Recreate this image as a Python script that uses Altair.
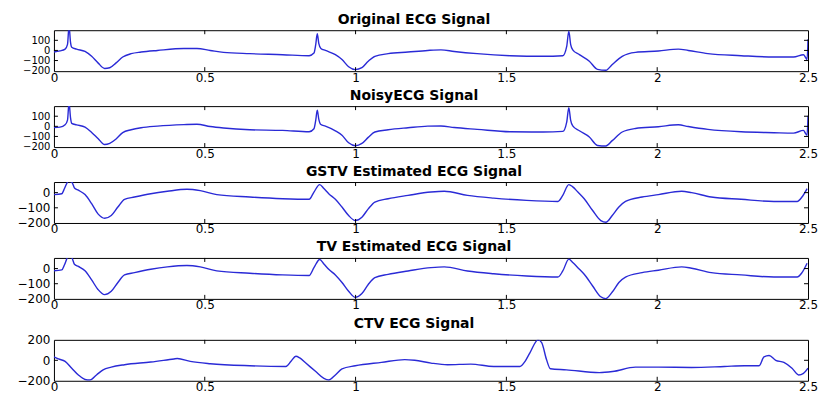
import altair as alt
import pandas as pd

# ---------------- data ----------------
TITLES = ["Original ECG Signal", "NoisyECG Signal", "GSTV Estimated ECG Signal",
          "TV Estimated ECG Signal", "CTV ECG Signal"]

X_TICKS = [0, 0.5, 1, 1.5, 2, 2.5]

t_orig = [0, 0.02, 0.037, 0.045, 0.050, 0.055, 0.059, 0.075, 0.103, 0.125, 0.146, 0.168,
          0.185, 0.206, 0.228, 0.256, 0.289, 0.343, 0.431, 0.474, 0.518, 0.562, 0.649,
          0.758, 0.846, 0.862, 0.868, 0.873, 0.878, 0.885, 0.900, 0.933, 0.955, 0.977,
          0.999, 1.021, 1.042, 1.064, 1.108, 1.174, 1.239, 1.283, 1.327, 1.403, 1.513,
          1.622, 1.687, 1.700, 1.707, 1.713, 1.720, 1.742, 1.775, 1.802, 1.830, 1.851,
          1.884, 1.928, 2.004, 2.070, 2.103, 2.168, 2.278, 2.387, 2.452, 2.485, 2.492,
          2.497, 2.5]
v_orig = [-15, -5, 13, 60, 240, 80, 32, 13, -10, -58, -123, -178,
          -171, -123, -65, -32, -16, 0, 19, 19, 0, -19, -32,
          -42, -52, -26, 60, 165, 70, 20, 0, -42, -90, -161,
          -190, -171, -107, -58, -32, -16, 0, 6, -10, -32, -52,
          -58, -52, 40, 190, 60, 6, -42, -107, -187, -196, -139,
          -58, -19, -6, 13, 0, -32, -52, -65, -65, -42, -70,
          -90, 110]

t_noisy = [0, 0.02, 0.037, 0.045, 0.050, 0.055, 0.059, 0.075, 0.103, 0.125, 0.146, 0.168,
           0.185, 0.206, 0.228, 0.256, 0.289, 0.343, 0.431, 0.474, 0.518, 0.562, 0.649,
           0.758, 0.846, 0.862, 0.868, 0.873, 0.878, 0.885, 0.900, 0.933, 0.955, 0.977,
           0.999, 1.021, 1.042, 1.064, 1.108, 1.174, 1.239, 1.283, 1.327, 1.403, 1.513,
           1.622, 1.687, 1.700, 1.707, 1.713, 1.720, 1.742, 1.775, 1.802, 1.830, 1.851,
           1.884, 1.928, 2.004, 2.070, 2.103, 2.168, 2.278, 2.387, 2.452, 2.485, 2.492,
           2.497, 2.5]
v_noisy = [-12, -8, 15, 62, 235, 84, 30, 15, -8, -60, -120, -180,
           -168, -125, -62, -34, -14, 2, 17, 21, -2, -17, -34,
           -40, -54, -24, 62, 160, 72, 18, 2, -44, -88, -163,
           -192, -169, -109, -56, -34, -14, 2, 4, -12, -30, -54,
           -56, -50, 42, 185, 62, 4, -44, -105, -189, -194, -141,
           -56, -21, -4, 15, -2, -30, -54, -63, -67, -40, -72,
           -88, 105]

t_gstv = [0, 0.026, 0.035, 0.048, 0.059, 0.068, 0.081, 0.103, 0.125, 0.146, 0.168, 0.190,
          0.212, 0.234, 0.267, 0.321, 0.376, 0.441, 0.485, 0.540, 0.649, 0.758, 0.846,
          0.862, 0.881, 0.895, 0.911, 0.933, 0.955, 0.977, 0.999, 1.021, 1.042, 1.064,
          1.108, 1.174, 1.250, 1.294, 1.371, 1.458, 1.567, 1.671, 1.687, 1.707, 1.720,
          1.737, 1.758, 1.786, 1.813, 1.830, 1.851, 1.873, 1.895, 1.950, 2.004, 2.081,
          2.114, 2.179, 2.278, 2.387, 2.464, 2.480, 2.497]
v_gstv = [-13, -7, 27, 75, 70, 31, 16, -13, -73, -140, -169, -151,
          -95, -44, -29, -7, 9, 22, 13, -13, -29, -40, -44,
          4, 53, 27, -7, -44, -95, -151, -184, -162, -107, -62,
          -40, -18, 4, 9, -18, -36, -51, -58, -18, 53, 38,
          4, -40, -118, -184, -195, -151, -95, -58, -29, -13, 9,
          0, -29, -44, -58, -58, -29, 27]

t_tv = [0, 0.026, 0.035, 0.048, 0.059, 0.068, 0.081, 0.103, 0.125, 0.146, 0.168, 0.190,
        0.212, 0.234, 0.267, 0.321, 0.376, 0.441, 0.485, 0.540, 0.649, 0.758, 0.846,
        0.862, 0.881, 0.895, 0.911, 0.933, 0.955, 0.977, 0.999, 1.021, 1.042, 1.064,
        1.108, 1.174, 1.250, 1.294, 1.371, 1.458, 1.567, 1.671, 1.687, 1.707, 1.720,
        1.737, 1.758, 1.786, 1.813, 1.830, 1.851, 1.873, 1.895, 1.950, 2.004, 2.081,
        2.114, 2.179, 2.278, 2.387, 2.464, 2.480, 2.497]
v_tv = [-15, -9, 25, 80, 72, 28, 14, -15, -75, -138, -172, -150,
        -92, -42, -27, -5, 11, 20, 11, -15, -31, -42, -46,
        6, 60, 30, -5, -42, -92, -150, -190, -165, -105, -60,
        -38, -16, 6, 11, -16, -34, -49, -56, -16, 62, 40,
        6, -38, -115, -186, -198, -155, -92, -56, -27, -11, 11,
        2, -27, -42, -56, -56, -27, 35]

t_ctv = [0, 0.015, 0.037, 0.059, 0.081, 0.103, 0.119, 0.141, 0.163, 0.190, 0.234, 0.321,
         0.398, 0.409, 0.452, 0.518, 0.649, 0.769, 0.786, 0.802, 0.815, 0.835, 0.868,
         0.895, 0.911, 0.933, 0.955, 0.999, 1.086, 1.163, 1.196, 1.250, 1.305, 1.382,
         1.458, 1.545, 1.562, 1.578, 1.605, 1.617, 1.633, 1.646, 1.699, 1.808, 1.852,
         1.928, 2.004, 2.114, 2.223, 2.289, 2.338, 2.354, 2.371, 2.393, 2.420, 2.447,
         2.469, 2.485, 2.5]
v_ctv = [33, 13, -10, -77, -143, -187, -193, -143, -93, -67, -43, -17,
         13, 17, -10, -33, -53, -60, -10, 40, 23, -27, -110,
         -177, -193, -143, -83, -53, -20, 7, 0, -27, -43, -37,
         -60, -60, -10, 73, 200, 173, 7, -83, -93, -120, -110,
         -67, -67, -70, -60, -53, -53, 33, 47, 0, -20, -77,
         -143, -127, -77]

Y_DOMAINS = [[-205, 200], [-205, 200], [-200, 70], [-200, 70], [-200, 200]]
Y_TICKS = [[-200, -100, 0, 100], [-200, -100, 0, 100], [-200, -100, 0],
           [-200, -100, 0], [-200, 0, 200]]
Y_INNER_TICKS = [[-100, 0, 100], [-100, 0, 100], [-100, 0], [-100, 0], [0]]
Y_LABEL_SIZES = [10, 10, 12, 12, 12]

SIGNALS = [(t_orig, v_orig), (t_noisy, v_noisy), (t_gstv, v_gstv), (t_tv, v_tv),
           (t_ctv, v_ctv)]

# ---------------- chart ----------------
W, H = 755, 41
LINE_COLOR = "#2a2ad6"


def panel(i):
    t, v = SIGNALS[i]
    df = pd.DataFrame({"t": t, "v": v})
    xs = alt.Scale(domain=[0, 2.5], nice=False, zero=False)
    ys = alt.Scale(domain=Y_DOMAINS[i], nice=False, zero=False)
    xaxis = alt.Axis(values=X_TICKS, format="~g", ticks=False, domain=False, grid=False,
                     labelPadding=1, title=None, labelFlush=False, labelOverlap=False,
                     labelFontSize=12, minExtent=13, maxExtent=13)
    yaxis = alt.Axis(values=Y_TICKS[i], ticks=False, domain=False, grid=False,
                     labelPadding=4, title=None, minExtent=40, maxExtent=40,
                     labelOverlap=False, labelFlush=False, labelFontSize=Y_LABEL_SIZES[i])
    line = alt.Chart(df).mark_line(color=LINE_COLOR, strokeWidth=1.4, clip=True,
                                   interpolate="monotone").encode(
        x=alt.X("t:Q", scale=xs, axis=xaxis),
        y=alt.Y("v:Q", scale=ys, axis=yaxis),
    )
    xt = pd.DataFrame({"t": [0.5, 1, 1.5, 2]})
    yt = pd.DataFrame({"v": Y_INNER_TICKS[i]})
    top = alt.Chart(xt).mark_rule(color="black", strokeWidth=1).encode(
        x=alt.X("t:Q", scale=xs, axis=xaxis), y=alt.value(0), y2=alt.value(4))
    bottom = alt.Chart(xt).mark_rule(color="black", strokeWidth=1).encode(
        x=alt.X("t:Q", scale=xs, axis=xaxis), y=alt.value(H - 4), y2=alt.value(H))
    left = alt.Chart(yt).mark_rule(color="black", strokeWidth=1).encode(
        y=alt.Y("v:Q", scale=ys, axis=yaxis), x=alt.value(0), x2=alt.value(4))
    right = alt.Chart(yt).mark_rule(color="black", strokeWidth=1).encode(
        y=alt.Y("v:Q", scale=ys, axis=yaxis), x=alt.value(W - 4), x2=alt.value(W))
    return alt.layer(line, top, bottom, left, right).properties(
        width=W, height=H,
        title=alt.TitleParams(TITLES[i], font="DejaVu Sans", fontSize=14, fontWeight="bold",
                              color="black", anchor="middle", offset=3, dx=-17),
    )


chart = alt.vconcat(*[panel(i) for i in range(5)], spacing=3).properties(
    padding={"left": 5, "top": 4, "right": 0, "bottom": 0},
    background="white",
).configure_view(stroke="black", strokeWidth=1).configure_axis(
    labelFont="DejaVu Sans", labelColor="black"
)

chart.save("out.html", embed_options={"renderer": "svg", "actions": False})
